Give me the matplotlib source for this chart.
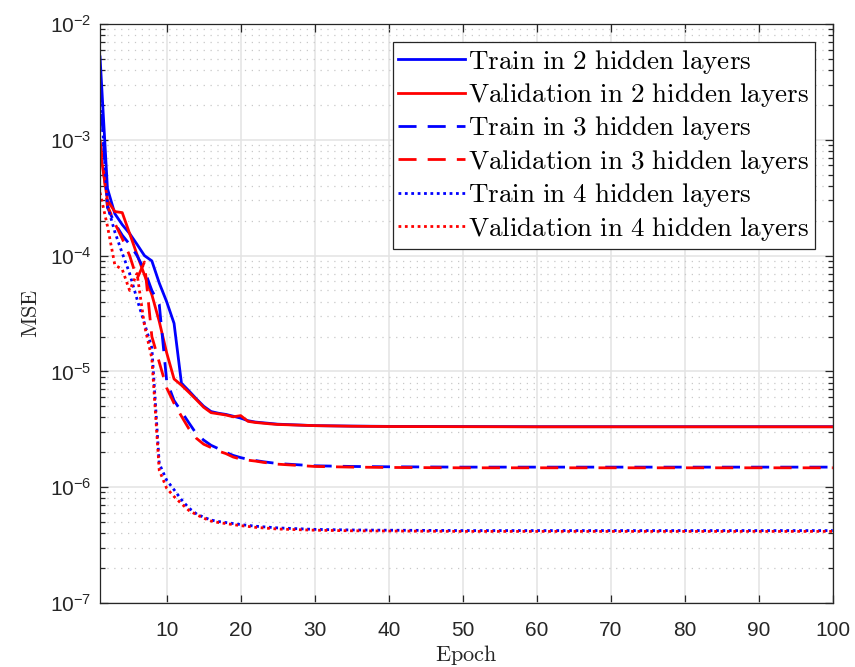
import numpy as np
import matplotlib
matplotlib.use("Agg")
import matplotlib.pyplot as plt
from matplotlib.ticker import LogLocator, NullFormatter, FixedLocator

# ticks in a Helvetica-like face, labels/legend in Computer Modern
plt.rcParams['mathtext.fontset'] = 'custom'
plt.rcParams['mathtext.rm'] = 'Liberation Sans'
plt.rcParams['mathtext.it'] = 'Liberation Sans:italic'
plt.rcParams['font.family'] = 'Liberation Sans'

epochs = list(range(1, 26)) + [30, 35, 40, 50, 60, 70, 80, 90, 100]

train_2 = [5.2e-3, 3.8e-4, 2.3e-4, 1.85e-4, 1.55e-4, 1.25e-4, 1.0e-4, 9.0e-5, 5.8e-5, 4.0e-5,
           2.6e-5, 7.9e-6, 6.8e-6, 5.8e-6, 5.0e-6, 4.5e-6, 4.35e-6, 4.25e-6, 4.1e-6, 3.95e-6,
           3.75e-6, 3.65e-6, 3.6e-6, 3.55e-6, 3.5e-6,
           3.4e-6, 3.37e-6, 3.35e-6, 3.34e-6, 3.33e-6, 3.33e-6, 3.33e-6, 3.33e-6, 3.33e-6]
val_2 = [8.3e-4, 3.0e-4, 2.4e-4, 2.35e-4, 1.55e-4, 1.02e-4, 6.8e-5, 4.6e-5, 2.7e-5, 1.45e-5,
         8.6e-6, 7.6e-6, 6.6e-6, 5.7e-6, 4.9e-6, 4.4e-6, 4.3e-6, 4.2e-6, 4.05e-6, 4.15e-6,
         3.7e-6, 3.62e-6, 3.57e-6, 3.52e-6, 3.48e-6,
         3.4e-6, 3.36e-6, 3.34e-6, 3.33e-6, 3.32e-6, 3.32e-6, 3.32e-6, 3.32e-6, 3.32e-6]
train_3 = [3.0e-3, 2.6e-4, 1.9e-4, 1.5e-4, 1.25e-4, 1.0e-4, 7.5e-5, 5.0e-5, 3.8e-5, 8.3e-6,
           5.6e-6, 4.5e-6, 3.6e-6, 2.9e-6, 2.55e-6, 2.3e-6, 2.15e-6, 2.0e-6, 1.88e-6, 1.8e-6,
           1.74e-6, 1.7e-6, 1.66e-6, 1.63e-6, 1.6e-6,
           1.53e-6, 1.51e-6, 1.5e-6, 1.49e-6, 1.49e-6, 1.49e-6, 1.49e-6, 1.49e-6, 1.49e-6]
val_3 = [1.0e-3, 2.7e-4, 1.9e-4, 1.4e-4, 1.0e-4, 6.3e-5, 8.8e-5, 2.0e-5, 1.2e-5, 7.2e-6,
         5.3e-6, 4.1e-6, 3.2e-6, 2.65e-6, 2.35e-6, 2.2e-6, 2.05e-6, 1.95e-6, 1.82e-6, 1.75e-6,
         1.71e-6, 1.68e-6, 1.64e-6, 1.61e-6, 1.58e-6,
         1.51e-6, 1.49e-6, 1.48e-6, 1.47e-6, 1.47e-6, 1.47e-6, 1.47e-6, 1.47e-6, 1.47e-6]
train_4 = [3.0e-3, 2.7e-4, 1.6e-4, 1.05e-4, 7.0e-5, 4.2e-5, 2.6e-5, 1.6e-5, 1.6e-6, 1.15e-6,
           9.5e-7, 7.8e-7, 6.6e-7, 5.9e-7, 5.5e-7, 5.2e-7, 5.05e-7, 4.95e-7, 4.85e-7, 4.75e-7,
           4.68e-7, 4.6e-7, 4.55e-7, 4.5e-7, 4.45e-7,
           4.32e-7, 4.27e-7, 4.25e-7, 4.22e-7, 4.22e-7, 4.22e-7, 4.22e-7, 4.22e-7, 4.22e-7]
val_4 = [3.5e-4, 1.8e-4, 8.3e-5, 7.6e-5, 5.0e-5, 7.0e-5, 2.5e-5, 1.3e-5, 1.4e-6, 9.8e-7,
         8.3e-7, 7.2e-7, 6.3e-7, 5.8e-7, 5.4e-7, 5.1e-7, 4.95e-7, 4.85e-7, 4.75e-7, 4.65e-7,
         4.58e-7, 4.5e-7, 4.45e-7, 4.4e-7, 4.35e-7,
         4.25e-7, 4.2e-7, 4.18e-7, 4.15e-7, 4.15e-7, 4.15e-7, 4.15e-7, 4.15e-7, 4.15e-7]

labels = ["Train in 2 hidden layers", "Validation in 2 hidden layers",
          "Train in 3 hidden layers", "Validation in 3 hidden layers",
          "Train in 4 hidden layers", "Validation in 4 hidden layers"]
xticks = [10, 20, 30, 40, 50, 60, 70, 80, 90, 100]
yticks = [1e-7, 1e-6, 1e-5, 1e-4, 1e-3, 1e-2]

series = [train_2, val_2, train_3, val_3, train_4, val_4]
colors = ['#0000ff', '#ff0000'] * 3
dash_styles = [None, None, (6.5, 4), (6.5, 4), (1, 1.3), (1, 1.3)]

fig = plt.figure(figsize=(8.55, 6.67), dpi=100)
ax = fig.add_axes([0.117, 0.096, 0.857, 0.868])

def cm(s):
    return r'$\mathrm{%s}$' % s.replace(' ', r'\ ')

for y, c, d, lab in zip(series, colors, dash_styles, labels):
    kw = {}
    if d is not None:
        kw['dashes'] = d
    ax.plot(epochs, y, color=c, lw=2.0, label=cm(lab), **kw)

ax.set_yscale('log')
ax.set_xlim(1, 100)
ax.set_ylim(1e-7, 1e-2)

ax.xaxis.set_major_locator(FixedLocator(xticks))
ax.set_xticklabels([str(t) for t in xticks])
ax.yaxis.set_major_locator(FixedLocator(yticks))
ax.set_yticklabels([r'$10^{%d}$' % int(np.log10(t)) for t in yticks])
ax.yaxis.set_minor_locator(LogLocator(base=10, subs=np.arange(2, 10), numticks=20))
ax.yaxis.set_minor_formatter(NullFormatter())

ax.grid(True, which='major', color='#e3e3e3', lw=1.1)
ax.grid(True, which='minor', axis='y', color='#c8c8c8', lw=0.9, linestyle=(0, (1, 4.5)))
ax.set_axisbelow(True)

ax.tick_params(which='both', direction='in', top=True, right=True, colors='#262626',
               labelsize=15, width=0.9)
ax.tick_params(which='major', length=6)
ax.tick_params(which='minor', length=3.5)
ax.tick_params(axis='x', which='major', pad=13)
ax.tick_params(axis='y', which='major', pad=6)
for s in ax.spines.values():
    s.set_color('#262626')
    s.set_linewidth(0.9)

ax.set_xlabel(cm('Epoch'), fontsize=16, color='#262626', math_fontfamily='cm')
ax.xaxis.set_label_coords(0.5, -0.07)
ax.set_ylabel(cm('MSE'), fontsize=16, color='#262626', labelpad=6, math_fontfamily='cm')

leg = ax.legend(loc='upper right', fontsize=19.5, handlelength=2.45, handletextpad=0.12,
                labelspacing=0.2, borderpad=0.22, borderaxespad=0.65, fancybox=False,
                framealpha=1, edgecolor='#262626')
leg.get_frame().set_linewidth(0.9)
for t in leg.get_texts():
    t.set_math_fontfamily('cm')

fig.savefig('out.png', dpi=100)
